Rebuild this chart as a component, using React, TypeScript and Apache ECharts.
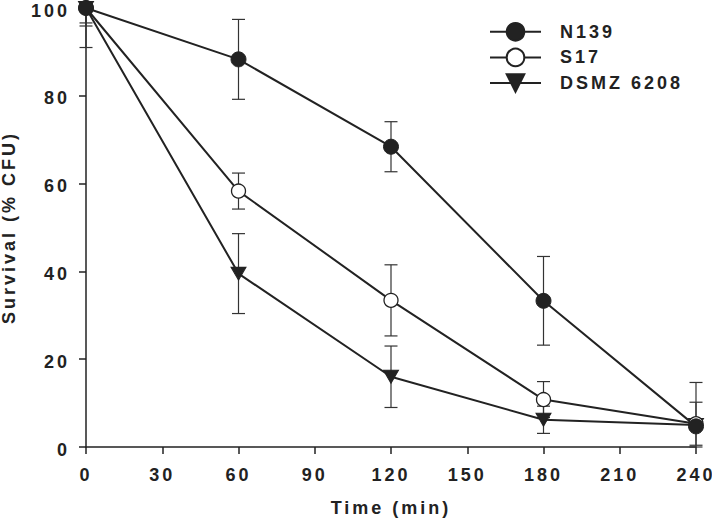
import React, { useEffect, useRef } from "react";
import * as echarts from "echarts";

const times = [0, 60, 120, 180, 240];
const xTicks = [0, 30, 60, 90, 120, 150, 180, 210, 240];
const n139 = [100, 88.3, 68.4, 33.3, 4.7];
const n139Err = [9, 9.1, 5.7, 10.1, 10];
const s17 = [100, 58.3, 33.4, 10.8, 5.3];
const s17Err = [3.4, 4.1, 8.1, 4.1, 4.9];
const dsmz = [100, 39.5, 16.0, 6.2, 5.0];
const dsmzErr = [4.1, 9.1, 7.0, 3.1, 1.0];
const seriesNames = ["N139", "S17", "DSMZ 6208"];

const INK = "#222222";
const FONT = "'Liberation Sans', Arial, sans-serif";

function errData(vals: number[], errs: number[]) {
  return times.map((t, i) => [t, Math.max(0, vals[i] - errs[i]), Math.min(100, vals[i] + errs[i]), vals[i] + errs[i] <= 100 ? 1 : 0]);
}

function renderErr(params: any, api: any) {
  const x = api.value(0);
  const lo = api.value(1);
  const hi = api.value(2);
  const showTop = api.value(3);
  const pLo = api.coord([x, lo]);
  const pHi = api.coord([x, hi]);
  const w = 6.5;
  const style = { stroke: "#333", lineWidth: 1.2 };
  const children: any[] = [
    { type: "line", shape: { x1: pLo[0], y1: pLo[1], x2: pHi[0], y2: pHi[1] }, style },
    { type: "line", shape: { x1: pLo[0] - w, y1: pLo[1], x2: pLo[0] + w, y2: pLo[1] }, style },
  ];
  if (showTop) {
    children.push({ type: "line", shape: { x1: pHi[0] - w, y1: pHi[1], x2: pHi[0] + w, y2: pHi[1] }, style });
  }
  return { type: "group", children };
}

export default function App() {
  const ref = useRef<HTMLDivElement>(null);
  useEffect(() => {
    if (!ref.current) return;
    const chart = echarts.init(ref.current, undefined, { renderer: "svg" });
    const mk = (arr: number[]) => times.map((t, i) => [t, arr[i]]);
    const lineBase = {
      type: "line" as const,
      lineStyle: { color: INK, width: 2 },
      z: 3,
    };
    const txt = { fontFamily: FONT, fontWeight: "bold" as const, fontSize: 18, color: INK };
    chart.setOption({
      animation: false,
      backgroundColor: "#fff",
      grid: { left: 86, right: 16, top: 8, bottom: 77, containLabel: false, outerBoundsMode: "none" },
      legend: {
        left: 484,
        top: 17,
        orient: "vertical",
        itemWidth: 51,
        itemHeight: 22,
        itemGap: 6,
        data: seriesNames,
        textStyle: { ...txt, padding: [0, 0, 0, 14] },
      },
      xAxis: {
        type: "value",
        min: 0,
        max: 240,
        interval: 30,
        name: "Time (min)",
        nameLocation: "middle",
        nameGap: 52,
        nameTextStyle: txt,
        axisLine: { lineStyle: { color: INK, width: 1.5 } },
        axisTick: { lineStyle: { color: INK, width: 1.5 }, length: 7 },
        axisLabel: {
          ...txt,
          margin: 19,
          formatter: (v: number) => (xTicks.includes(v) ? String(v) : ""),
        },
        splitLine: { show: false },
      },
      yAxis: {
        type: "value",
        min: 0,
        max: 100,
        interval: 20,
        name: "Survival (% CFU)",
        nameLocation: "middle",
        nameGap: 68,
        nameTextStyle: txt,
        axisLine: { show: true, lineStyle: { color: INK, width: 1.5 } },
        axisTick: { show: true, lineStyle: { color: INK, width: 1.5 }, length: 7 },
        axisLabel: { ...txt, margin: 16, verticalAlign: "top", lineHeight: 5 },
        splitLine: { show: false },
      },
      series: [
        {
          type: "custom",
          name: "errN",
          renderItem: renderErr,
          data: errData(n139, n139Err),
          encode: { x: 0, y: [1, 2] },
          z: 1,
        },
        {
          type: "custom",
          name: "errS",
          renderItem: renderErr,
          data: errData(s17, s17Err),
          encode: { x: 0, y: [1, 2] },
          z: 1,
        },
        {
          type: "custom",
          name: "errD",
          renderItem: renderErr,
          data: errData(dsmz, dsmzErr),
          encode: { x: 0, y: [1, 2] },
          z: 1,
        },
        {
          ...lineBase,
          name: seriesNames[2],
          data: mk(dsmz),
          symbol: "triangle",
          symbolRotate: 180,
          symbolSize: [15, 13],
          itemStyle: { color: INK, borderColor: INK, borderWidth: 1 },
        },
        {
          ...lineBase,
          name: seriesNames[1],
          data: mk(s17),
          symbol: "circle",
          symbolSize: 14,
          itemStyle: { color: "#fff", borderColor: INK, borderWidth: 1.3 },
        },
        {
          ...lineBase,
          name: seriesNames[0],
          data: mk(n139),
          symbol: "circle",
          symbolSize: 15,
          itemStyle: { color: INK, borderColor: INK, borderWidth: 1 },
        },
      ],
    });
    return () => chart.dispose();
  }, []);
  return (
    <div
      ref={ref}
      style={{ width: 712, height: 524, position: "absolute", left: 0, top: 0, letterSpacing: "3px" }}
    />
  );
}
